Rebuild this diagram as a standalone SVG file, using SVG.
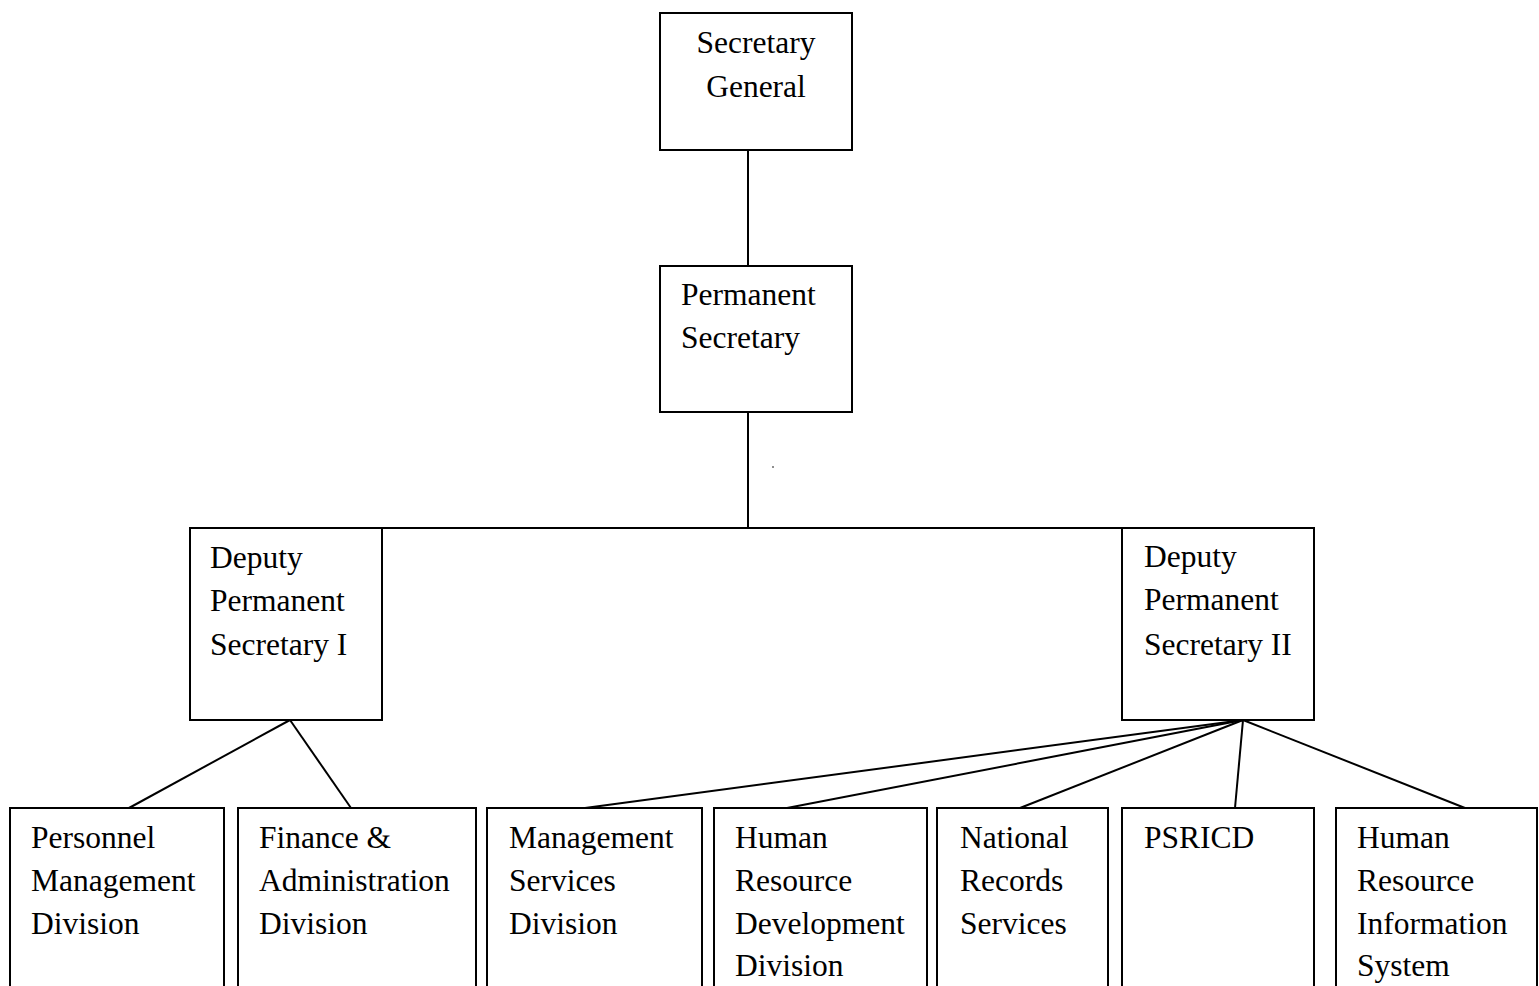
<svg xmlns="http://www.w3.org/2000/svg" width="1539" height="986" viewBox="0 0 1539 986">
<style>
.box{fill:#fff;stroke:#000;stroke-width:2}
.t{font-family:"Liberation Serif","Times New Roman",serif;font-size:31.5px;fill:#000}
.c{text-anchor:middle}
.ln{stroke:#000;stroke-width:2;fill:none}
</style>
<rect width="1539" height="986" fill="#fff"/>
<g id="connectors">
<line class="ln" x1="748" y1="150" x2="748" y2="266"/>
<line class="ln" x1="748" y1="412" x2="748" y2="528"/>
<line class="ln" x1="382" y1="528" x2="1122" y2="528"/>
<line class="ln" x1="290" y1="720" x2="129" y2="808"/>
<line class="ln" x1="290" y1="720" x2="351" y2="808"/>
<line class="ln" x1="1243" y1="720" x2="585" y2="808"/>
<line class="ln" x1="1243" y1="720" x2="787" y2="808"/>
<line class="ln" x1="1243" y1="720" x2="1020" y2="808"/>
<line class="ln" x1="1243" y1="720" x2="1235" y2="808"/>
<line class="ln" x1="1243" y1="720" x2="1465" y2="808"/>
<circle cx="773" cy="467" r="0.8" fill="#000"/>
</g>
<g id="secretary-general">
<rect class="box" x="660" y="13" width="192" height="137"/>
<text class="t c" x="756" y="53">Secretary</text>
<text class="t c" x="756" y="97">General</text>
</g>
<g id="permanent-secretary">
<rect class="box" x="660" y="266" width="192" height="146"/>
<text class="t" x="681" y="305">Permanent</text>
<text class="t" x="681" y="348">Secretary</text>
</g>
<g id="dps1">
<rect class="box" x="190" y="528" width="192" height="192"/>
<text class="t" x="210" y="568">Deputy</text>
<text class="t" x="210" y="611">Permanent</text>
<text class="t" x="210" y="655">Secretary I</text>
</g>
<g id="dps2">
<rect class="box" x="1122" y="528" width="192" height="192"/>
<text class="t" x="1144" y="567">Deputy</text>
<text class="t" x="1144" y="610">Permanent</text>
<text class="t" x="1144" y="655">Secretary II</text>
</g>
<g id="pmd">
<rect class="box" x="10" y="808" width="214" height="200"/>
<text class="t" x="31" y="848">Personnel</text>
<text class="t" x="31" y="891">Management</text>
<text class="t" x="31" y="934">Division</text>
</g>
<g id="fad">
<rect class="box" x="238" y="808" width="238" height="200"/>
<text class="t" x="259" y="848">Finance &amp;</text>
<text class="t" x="259" y="891">Administration</text>
<text class="t" x="259" y="934">Division</text>
</g>
<g id="msd">
<rect class="box" x="487" y="808" width="215" height="200"/>
<text class="t" x="509" y="848">Management</text>
<text class="t" x="509" y="891">Services</text>
<text class="t" x="509" y="934">Division</text>
</g>
<g id="hrdd">
<rect class="box" x="714" y="808" width="213" height="200"/>
<text class="t" x="735" y="848">Human</text>
<text class="t" x="735" y="891">Resource</text>
<text class="t" x="735" y="934">Development</text>
<text class="t" x="735" y="976">Division</text>
</g>
<g id="nrs">
<rect class="box" x="937" y="808" width="171" height="200"/>
<text class="t" x="960" y="848">National</text>
<text class="t" x="960" y="891">Records</text>
<text class="t" x="960" y="934">Services</text>
</g>
<g id="psricd">
<rect class="box" x="1122" y="808" width="192" height="200"/>
<text class="t" x="1144" y="848">PSRICD</text>
</g>
<g id="hris">
<rect class="box" x="1336" y="808" width="201" height="200"/>
<text class="t" x="1357" y="848">Human</text>
<text class="t" x="1357" y="891">Resource</text>
<text class="t" x="1357" y="934">Information</text>
<text class="t" x="1357" y="976">System</text>
</g>
</svg>
